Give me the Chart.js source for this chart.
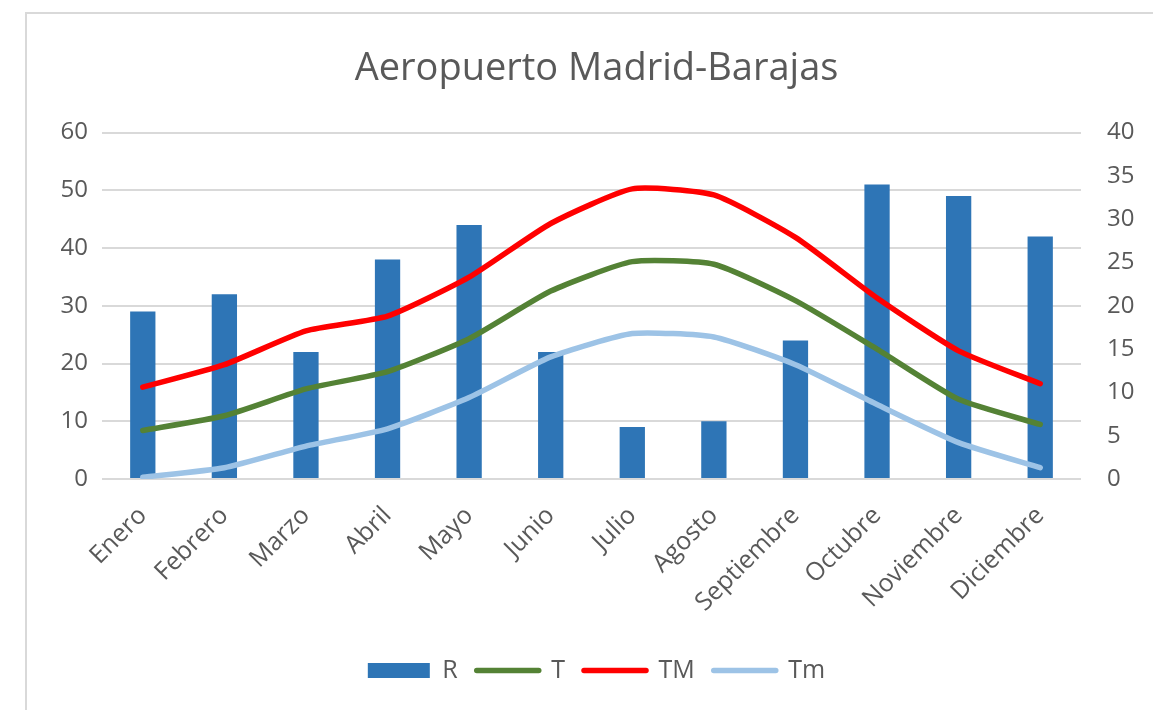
<!DOCTYPE html>
<html>
<head>
<meta charset="utf-8">
<script src="https://cdn.jsdelivr.net/npm/chart.js@4"></script>
<style>
  html, body { margin: 0; padding: 0; background: #fff; }
  #wrap { position: relative; width: 1153px; height: 710px; }
  #marco { position: absolute; left: 25px; top: 12px; right: 0; bottom: 0;
           border-top: 2px solid #d9d9d9; border-left: 2px solid #d9d9d9; }
  #grafico { position: absolute; left: 0; top: 0; }
</style>
</head>
<body>
<div id="wrap">
  <div id="marco"></div>
  <canvas id="grafico" width="1153" height="710"></canvas>
</div>
<script>
// Datos de la estación (lluvia en mm, temperaturas en ºC)
const meses = ['Enero', 'Febrero', 'Marzo', 'Abril', 'Mayo', 'Junio', 'Julio',
               'Agosto', 'Septiembre', 'Octubre', 'Noviembre', 'Diciembre'];
const lluvia = [29, 32, 22, 38, 44, 22, 9, 10, 24, 51, 49, 42];
const tMedia = [5.6, 7.3, 10.4, 12.4, 16.2, 21.7, 25.1, 24.8, 20.6, 15.0, 9.2, 6.3];
const tMax = [10.6, 13.2, 17.1, 18.8, 23.3, 29.5, 33.5, 32.8, 27.9, 20.9, 14.8, 11.0];
const tMin = [0.2, 1.3, 3.8, 5.8, 9.4, 14.1, 16.8, 16.4, 13.2, 8.6, 4.2, 1.3];
const ticksIzq = [0, 60, 10];
const ticksDer = [0, 40, 5];

const gris = '#595959';
const fuente = 'Open Sans';

function serieLinea(nombre, datos, color) {
  return {
    type: 'line',
    label: nombre,
    data: datos,
    yAxisID: 'y1',
    borderColor: color,
    backgroundColor: color,
    borderWidth: 5.5,
    borderCapStyle: 'round',
    borderJoinStyle: 'round',
    tension: 0.18,
    pointRadius: 0,
    fill: false,
    order: 1
  };
}

const ctx = document.getElementById('grafico').getContext('2d');
new Chart(ctx, {
  data: {
    labels: meses,
    datasets: [
      {
        type: 'bar',
        label: 'R',
        data: lluvia,
        yAxisID: 'y',
        backgroundColor: '#2E75B6',
        categoryPercentage: 1,
        barPercentage: 0.31,
        order: 2
      },
      serieLinea('T', tMedia, '#548235'),
      serieLinea('TM', tMax, '#FF0000'),
      serieLinea('Tm', tMin, '#9DC3E6')
    ]
  },
  options: {
    responsive: false,
    animation: false,
    layout: { padding: { left: 40, right: 0, top: 0, bottom: 17 } },
    plugins: {
      tooltip: { enabled: false },
      title: {
        display: true,
        text: 'Aeropuerto Madrid-Barajas',
        color: gris,
        font: { family: fuente, size: 38, weight: 'normal', lineHeight: 1.2 },
        padding: { top: 46, bottom: 41 }
      },
      legend: {
        position: 'bottom',
        labels: {
          usePointStyle: true,
          pointStyleWidth: 62,
          boxHeight: 15,
          padding: 19,
          color: gris,
          font: { family: fuente, size: 25 },
          sort: (a, b) => a.datasetIndex - b.datasetIndex,
          generateLabels: function(chart) {
            return chart.data.datasets.map(function(ds, i) {
              const esBarra = ds.type === 'bar';
              return {
                text: ds.label,
                datasetIndex: i,
                fillStyle: esBarra ? ds.backgroundColor : ds.borderColor,
                strokeStyle: esBarra ? ds.backgroundColor : ds.borderColor,
                lineWidth: esBarra ? 0 : 5.5,
                lineCap: 'round',
                pointStyle: esBarra ? 'rect' : 'line',
                fontColor: gris,
                hidden: false
              };
            });
          }
        }
      }
    },
    scales: {
      x: {
        grid: { display: false },
        border: { display: false },
        ticks: {
          color: gris,
          font: { family: fuente, size: 25 },
          minRotation: 45,
          maxRotation: 45,
          padding: 14
        },
        afterFit: function(s) { s.height = 160; }
      },
      y: {
        position: 'left',
        min: ticksIzq[0],
        max: ticksIzq[1],
        ticks: { stepSize: ticksIzq[2], color: gris, padding: 14,
                 font: { family: fuente, size: 24 } },
        grid: { color: '#d9d9d9', lineWidth: 2, drawTicks: false },
        border: { display: false },
        afterFit: function(s) { s.width = 62; }
      },
      y1: {
        position: 'right',
        min: ticksDer[0],
        max: ticksDer[1],
        ticks: { stepSize: ticksDer[2], color: gris, padding: 26,
                 font: { family: fuente, size: 24 } },
        grid: { display: false, drawTicks: false },
        border: { display: false },
        afterFit: function(s) { s.width = 72; }
      }
    }
  }
});
</script>
</body>
</html>
